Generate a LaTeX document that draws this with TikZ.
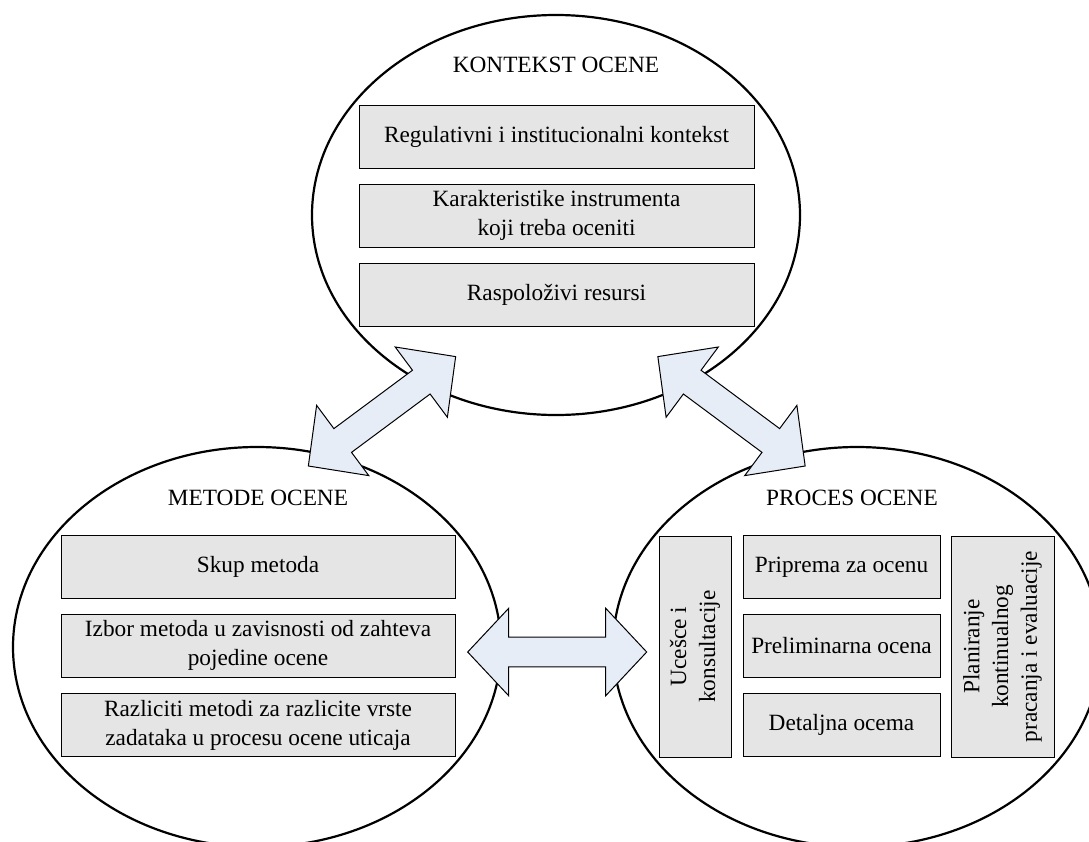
\documentclass[tikz,border=0pt]{standalone}
\usepackage{fontspec}
\setmainfont{Liberation Serif}
\usetikzlibrary{shapes.geometric}

\definecolor{arrowfill}{RGB}{230,237,247}
\definecolor{boxfill}{RGB}{229,229,229}

% double-headed block arrow: centre, angle, total length, head length
\newcommand\twowayarrow[4]{%
  \begin{scope}[shift={#1}, rotate=#2]
    \draw[blockarrow]
      ({-#3/2},0) -- ({-#3/2+#4},43.75) -- ({-#3/2+#4},14.8)
      -- ({#3/2-#4},14.8) -- ({#3/2-#4},43.75) -- ({#3/2},0)
      -- ({#3/2-#4},-43.75) -- ({#3/2-#4},-14.8) -- ({-#3/2+#4},-14.8)
      -- ({-#3/2+#4},-43.75) -- cycle;
  \end{scope}}

\begin{document}
\begin{tikzpicture}[x=1pt, y=-1pt,
  every node/.style={font=\fontsize{23.3}{28.8}\selectfont, inner sep=0pt},
  group/.style={ellipse, draw=black, line width=2.2pt, fill=white,
    minimum width=488pt, minimum height=400pt},
  heading/.style={anchor=base},
  item/.style={rectangle, draw=black, line width=1pt, fill=boxfill,
    align=center},
  wideitem/.style={item, minimum width=394pt, minimum height=63pt},
  miditem/.style={item, minimum width=197pt, minimum height=63pt},
  blockarrow/.style={draw=black, line width=1pt, fill=arrowfill,
    line join=miter}]

\useasboundingbox (0,0) rectangle (1089,841);
\clip (0,0) rectangle (1089,841);

% the three groups
\node[group] (kontekst) at (556,215) {};
\node[group] (metode) at (257,647) {};
\node[group] (proces) at (857,647) {};

% KONTEKST OCENE
\node[heading] (tk) at (556,72) {KONTEKST OCENE};
\node[wideitem, minimum width=395pt] (k1) at (556.5,136.5) {Regulativni i institucionalni kontekst};
\node[wideitem, minimum width=395pt] (k2) at (556.5,215.5) {Karakteristike instrumenta\\koji treba oceniti};
\node[wideitem, minimum width=395pt] (k3) at (556.5,294.5) {Raspoloživi resursi};

% METODE OCENE
\node[heading] (tm) at (258,505) {METODE OCENE};
\node[wideitem] (m1) at (258,567) {Skup metoda};
\node[wideitem] (m2) at (258,645.5) {Izbor metoda u zavisnosti od zahteva\\pojedine ocene};
\node[wideitem] (m3) at (258,725) {Razliciti metodi za razlicite vrste\\zadataka u procesu ocene uticaja};

% PROCES OCENE
\node[heading] (tp) at (852,505) {PROCES OCENE};
\node[item, rotate=90, minimum width=221pt, minimum height=72pt] (p0) at (695,646.5) {Ucešce i\\konsultacije};
\node[miditem] (p1) at (841.5,567) {Priprema za ocenu};
\node[miditem] (p2) at (841.5,645.5) {Preliminarna ocena};
\node[miditem] (p3) at (841.5,725) {Detaljna ocema};
\node[item, rotate=90, minimum width=221pt, minimum height=103pt] (p4) at (1002.5,646.5) {Planiranje\\kontinualnog\\pracanja i evaluacije};

% links between the groups
\coordinate (km) at (382,411.3);
\coordinate (kp) at (731.5,411.3);
\coordinate (mp) at (557.2,652);
\twowayarrow{(km)}{36.6}{183.5}{42.8}
\twowayarrow{(kp)}{-36.6}{183.5}{42.8}
\twowayarrow{(mp)}{0}{179}{41}

\end{tikzpicture}
\end{document}
